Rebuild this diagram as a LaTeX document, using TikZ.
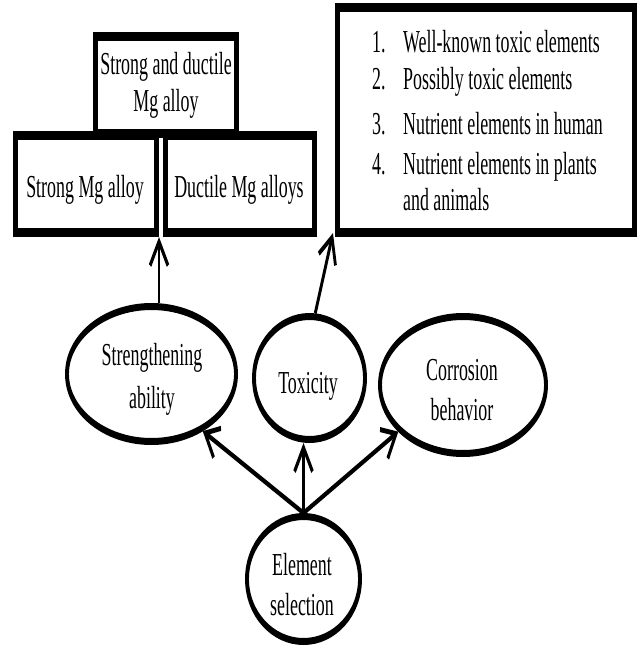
\documentclass[tikz,border=0pt]{standalone}
\usepackage{fontspec}
\setmainfont{Liberation Serif}
\usetikzlibrary{arrows.meta,shapes.geometric,calc}
\tikzset{
  boxst/.style={draw, line width=9pt, rectangle, inner sep=0pt},
  ellst/.style={draw, line width=7pt, ellipse, inner sep=0pt},
  txt/.style={inner sep=0pt, anchor=base, font=\fontsize{32}{38}\selectfont},
  txtl/.style={txt, anchor=base west},
  arr/.style={line width=5pt, -{Straight Barb[length=24pt,width=32pt,line width=5pt]}}
}
\begin{document}
\begin{tikzpicture}[x=1pt,y=-1pt]
\fill[white, use as bounding box] (0,0) rectangle (637,647);
\begin{scope}[transform canvas={xscale=0.56}, x=1.785714pt, y=-1pt]
  % boxes
  \node[boxst, minimum width=251.8pt, minimum height=96.5pt] (lbox) at (86,184.25) {};
  \node[boxst, minimum width=266.1pt, minimum height=96.5pt] (rbox) at (240,184.25) {};
  \node[boxst, minimum width=251.8pt, minimum height=97.5pt] (tbox) at (166,85.25) {};
  \node[boxst, minimum width=530.4pt, minimum height=225pt] (lst) at (486,120) {};
  % ellipses
  \node[ellst, minimum width=301.8pt, minimum height=135pt] (str) at (151.5,374) {};
  \node[ellst, minimum width=198.2pt, minimum height=123pt] (tox) at (309.5,378) {};
  \node[ellst, minimum width=296.4pt, minimum height=137pt] (cor) at (463,385) {};
  \node[ellst, minimum width=201.8pt, minimum height=125pt] (el) at (303.5,579) {};
  % texts
  \node[txt] (t1) at (166,75) {Strong and ductile};
  \node[txt] (t2) at (166,112) {Mg alloy};
  \node[txt] (t3) at (85,197) {Strong Mg alloy};
  \node[txt] (t4) at (239,197) {Ductile Mg alloys};
  \node[txt] (s1) at (152,365) {Strengthening};
  \node[txt] (s2) at (152,408) {ability};
  \node[txt] (x1) at (308,393) {Toxicity};
  \node[txt] (c1) at (462,380) {Corrosion};
  \node[txt] (c2) at (462,420) {behavior};
  \node[txt] (e1) at (302,575) {Element};
  \node[txt] (e2) at (302,615) {selection};
  % list
  \node[txtl] (n1) at (372,53) {1.};
  \node[txtl] (l1) at (403,53) {Well-known toxic elements};
  \node[txtl] (n2) at (372,90) {2.};
  \node[txtl] (l2) at (403,90) {Possibly toxic elements};
  \node[txtl] (n3) at (372,135) {3.};
  \node[txtl] (l3) at (403,135) {Nutrient elements in human};
  \node[txtl] (n4) at (372,175) {4.};
  \node[txtl] (l4) at (403,175) {Nutrient elements in plants};
  \node[txtl] (l5) at (403,210) {and animals};
  % arrows
  \draw[arr] (str.north -| lbox.south east) -- (lbox.south east);
  \draw[arr] (tox.81) -- ([shift={(-2,-4)}]lst.south west);
  \draw[arr] (el.north) -- (str.-32);
  \draw[arr] (el.north) -- (el.north |- tox.south);
  \draw[arr] (el.north) -- (cor.202);
\end{scope}
\end{tikzpicture}
\end{document}
